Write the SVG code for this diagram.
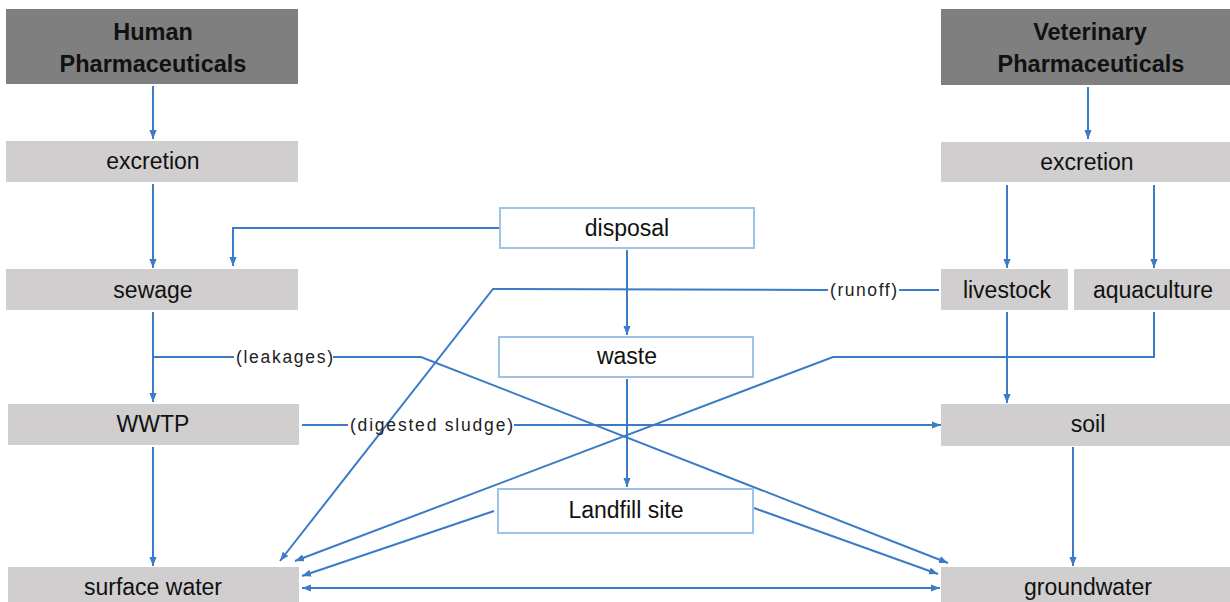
<svg xmlns="http://www.w3.org/2000/svg" width="1230" height="602" viewBox="0 0 1230 602">
  <defs>
    <marker id="arr" viewBox="0 0 10 8" refX="10" refY="4" markerWidth="9" markerHeight="7.5" markerUnits="userSpaceOnUse" orient="auto-start-reverse">
      <path d="M0,0 L10,4 L0,8 z" fill="#3b7bc8"/>
    </marker>
    <style>
      .dark { fill: #7f7f7f; }
      .gray { fill: #d0cece; }
      .wbox { fill: #ffffff; stroke: #9dc3e6; stroke-width: 2; }
      .t { font-family: "Liberation Sans", Arial, sans-serif; font-size: 23px; fill: #111111; text-anchor: middle; }
      .tb { font-family: "Liberation Sans", Arial, sans-serif; font-size: 23.5px; font-weight: bold; fill: #111111; text-anchor: middle; }
      .lbl { font-family: "Liberation Sans", Arial, sans-serif; font-size: 17.5px; fill: #222222; }
      .c { fill: none; stroke: #3b7bc8; stroke-width: 2; }
    </style>
  </defs>
  <rect width="1230" height="602" fill="#ffffff"/>

  <g id="connectors">
    <path class="c" d="M153 86 V139" marker-end="url(#arr)"/>
    <path class="c" d="M153 184 V268" marker-end="url(#arr)"/>
    <path class="c" d="M153 312 V402" marker-end="url(#arr)"/>
    <path class="c" d="M153 447 V566" marker-end="url(#arr)"/>
    <path class="c" d="M500 228 H233 V266" marker-end="url(#arr)"/>
    <path class="c" d="M627 250 V335" marker-end="url(#arr)"/>
    <path class="c" d="M627 379 V487" marker-end="url(#arr)"/>
    <path class="c" d="M153 357 H234"/>
    <path class="c" d="M333 357 H421 L948 563" marker-end="url(#arr)"/>
    <path class="c" d="M302 425 H348"/>
    <path class="c" d="M514 425 H941" marker-end="url(#arr)"/>
    <path class="c" d="M939 290 H899"/>
    <path class="c" d="M828 290 L493 289 L280 561" marker-end="url(#arr)"/>
    <path class="c" d="M1154 312 V357 H833 L295 561" marker-end="url(#arr)"/>
    <path class="c" d="M494 511 L302 576" marker-end="url(#arr)"/>
    <path class="c" d="M754 508 L938 574" marker-end="url(#arr)"/>
    <path class="c" d="M302 588 H940" marker-start="url(#arr)" marker-end="url(#arr)"/>
    <path class="c" d="M1088 87 V139" marker-end="url(#arr)"/>
    <path class="c" d="M1007 185 V268" marker-end="url(#arr)"/>
    <path class="c" d="M1154 185 V268" marker-end="url(#arr)"/>
    <path class="c" d="M1007 312 V403" marker-end="url(#arr)"/>
    <path class="c" d="M1073 447 V566" marker-end="url(#arr)"/>
    <text class="lbl" x="236" y="363" textLength="97" lengthAdjust="spacing">(leakages)</text>
    <text class="lbl" x="350" y="431" textLength="163" lengthAdjust="spacing">(digested sludge)</text>
    <text class="lbl" x="830" y="296" textLength="67" lengthAdjust="spacing">(runoff)</text>
  </g>

  <g id="human-pharmaceuticals">
    <rect class="dark" x="6" y="9" width="292" height="75"/>
    <text class="tb" x="153" y="40">Human</text>
    <text class="tb" x="153" y="72">Pharmaceuticals</text>
  </g>
  <g id="excretion-human">
    <rect class="gray" x="6" y="141" width="292" height="41"/>
    <text class="t" x="153" y="169">excretion</text>
  </g>
  <g id="sewage">
    <rect class="gray" x="6" y="269" width="292" height="41"/>
    <text class="t" x="153" y="298">sewage</text>
  </g>
  <g id="wwtp">
    <rect class="gray" x="8" y="404" width="291" height="41"/>
    <text class="t" x="153" y="432">WWTP</text>
  </g>
  <g id="surface-water">
    <rect class="gray" x="8" y="567" width="291" height="45"/>
    <text class="t" x="153" y="595">surface water</text>
  </g>

  <g id="disposal">
    <rect class="wbox" x="500" y="208" width="254" height="40"/>
    <text class="t" x="627" y="236">disposal</text>
  </g>
  <g id="waste">
    <rect class="wbox" x="499" y="337" width="254" height="40"/>
    <text class="t" x="627" y="364">waste</text>
  </g>
  <g id="landfill-site">
    <rect class="wbox" x="498" y="489" width="255" height="44"/>
    <text class="t" x="626" y="518">Landfill site</text>
  </g>

  <g id="veterinary-pharmaceuticals">
    <rect class="dark" x="941" y="9" width="293" height="76"/>
    <text class="tb" x="1090" y="40">Veterinary</text>
    <text class="tb" x="1091" y="72">Pharmaceuticals</text>
  </g>
  <g id="excretion-vet">
    <rect class="gray" x="941" y="142" width="293" height="40"/>
    <text class="t" x="1087" y="170">excretion</text>
  </g>
  <g id="livestock">
    <rect class="gray" x="941" y="269" width="127" height="41"/>
    <text class="t" x="1007" y="298">livestock</text>
  </g>
  <g id="aquaculture">
    <rect class="gray" x="1074" y="269" width="160" height="41"/>
    <text class="t" x="1153" y="298">aquaculture</text>
  </g>
  <g id="soil">
    <rect class="gray" x="941" y="404" width="293" height="42"/>
    <text class="t" x="1088" y="432">soil</text>
  </g>
  <g id="groundwater">
    <rect class="gray" x="941" y="567" width="293" height="45"/>
    <text class="t" x="1088" y="595">groundwater</text>
  </g>
</svg>
